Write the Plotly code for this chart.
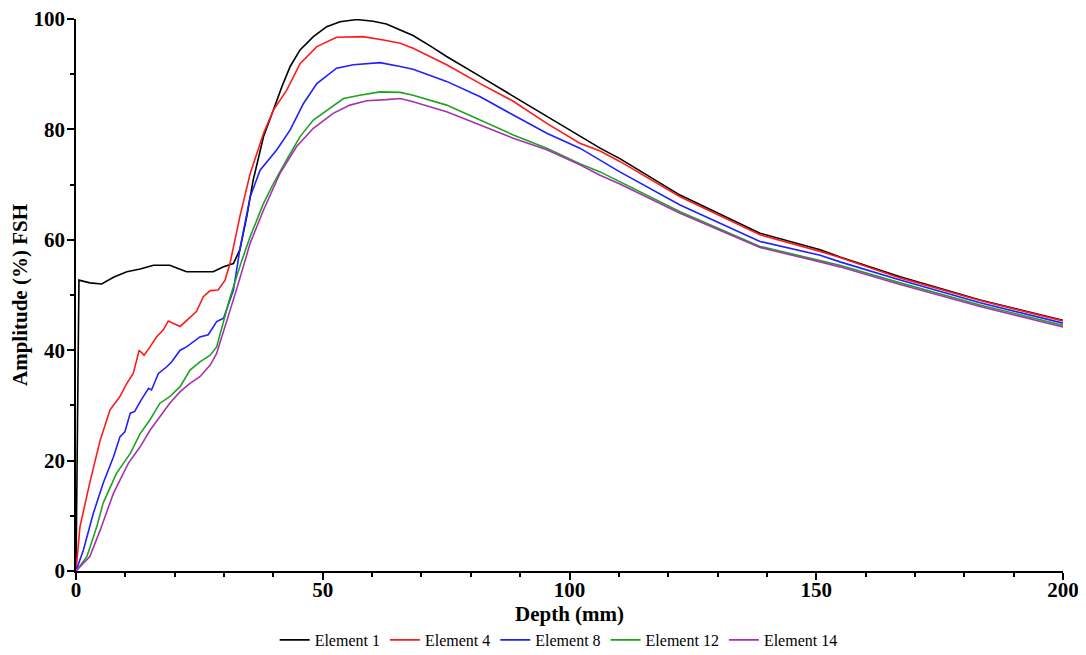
import plotly.graph_objects as go

# ---- data ----
names = ["Element 1", "Element 4", "Element 8", "Element 12", "Element 14"]
colors = ["#000000", "#ff1a1a", "#2020ff", "#1fa31f", "#a632b0"]

depth_e1 = [0, 0.6, 2.8, 5.2, 7.6, 10.3, 13, 15.7, 19, 22.4, 25, 27.8, 29.9, 31.9, 33.2, 34.6, 35.9, 38, 40,
            41.7, 43.4, 45.4, 48.1, 50.8, 53.5, 56.9, 60.2, 62.9, 65.7, 68.3, 72, 75.1, 81.9, 88.6, 95.4, 102.1,
            106.2, 110.2, 122.4, 138.6, 150.8, 154.8, 167, 183.2, 200]
amp_e1 = [0, 52.7, 52.2, 52.0, 53.2, 54.2, 54.7, 55.4, 55.4, 54.2, 54.2, 54.2, 55.1, 55.7, 58.2, 64.2, 70.8,
          78.7, 83.5, 87.7, 91.4, 94.4, 96.8, 98.6, 99.5, 99.9, 99.6, 99.1, 98.0, 97.0, 95.0, 93.2, 89.6, 86.0,
          82.3, 78.7, 76.6, 74.7, 68.1, 61.2, 58.2, 56.9, 53.3, 49.1, 45.4]

depth_e4 = [0, 0.8, 2.8, 4.9, 6.9, 8.9, 10.3, 11.6, 12.8, 13.8, 15, 16.3, 17.7, 18.7, 21.1, 23.1, 24.4, 25.8,
            27.2, 28.8, 30.2, 31.2, 33.2, 35.3, 38, 40, 42.7, 45.4, 48.8, 52.8, 58.2, 62.3, 65.7, 68.3, 75.1,
            81.9, 88.6, 95.4, 102.1, 106.2, 110.2, 122.4, 138.6, 150.8, 154.8, 167, 183.2, 200]
amp_e4 = [0, 8, 16, 23.7, 29.2, 31.6, 34, 35.8, 40, 39.1, 40.6, 42.4, 43.7, 45.3, 44.3, 46, 47, 49.7, 50.8,
          50.9, 52.7, 55.7, 64.2, 72, 79.3, 83.5, 87.1, 91.9, 95, 96.7, 96.8, 96.2, 95.6, 94.7, 91.7, 88.3,
          85.1, 81.1, 77.5, 76.1, 74.2, 67.8, 60.9, 57.9, 56.8, 53.1, 49.0, 45.3]

depth_e8 = [0, 1.5, 3.5, 5.5, 7.6, 8.9, 9.9, 11, 11.9, 13, 14.7, 15.3, 16.7, 18.4, 19.4, 21.1, 22.4, 25.1,
            26.8, 28.5, 29.9, 31.9, 33.2, 35.3, 37.3, 40.7, 43.4, 46.1, 48.8, 52.8, 56.2, 58.9, 61.6, 65.7,
            68.3, 75.1, 81.9, 88.6, 95.4, 102.1, 106.2, 110.2, 122.4, 138.6, 150.8, 154.8, 167, 183.2, 200]
amp_e8 = [0, 3.8, 10.4, 15.9, 20.7, 24.3, 25.2, 28.6, 28.9, 30.7, 33.1, 32.8, 35.8, 37, 37.9, 40, 40.6, 42.4,
          42.8, 45.2, 45.8, 50.9, 58.2, 67.8, 72.6, 76.3, 79.9, 84.7, 88.3, 91.1, 91.7, 91.9, 92.1, 91.4,
          90.9, 88.7, 85.9, 82.6, 79.3, 76.6, 74.5, 72.3, 66.3, 59.7, 57.2, 56.0, 52.7, 48.6, 44.9]

depth_e12 = [0, 2.2, 4.2, 5.5, 8.2, 11, 13, 15, 17, 19, 21.1, 23.1, 25.1, 27.2, 28.5, 29.9, 31.2, 33.5, 35.3,
             38, 40, 42.7, 45.4, 48.1, 50.8, 54.2, 57.5, 61.6, 65.7, 68.3, 75.1, 81.9, 88.6, 95.4, 102.1,
             106.2, 110.2, 122.4, 138.6, 150.8, 154.8, 167, 183.2, 200]
amp_e12 = [0, 2.6, 8, 12.3, 17.7, 21.3, 24.9, 27.4, 30.4, 31.6, 33.4, 36.4, 37.9, 39.1, 40.6, 45, 49.5, 56,
           60.6, 66.6, 70.2, 74.5, 78.7, 81.7, 83.5, 85.6, 86.2, 86.8, 86.7, 86.2, 84.4, 81.7, 79.0, 76.6,
           73.8, 72.3, 70.5, 65.1, 58.8, 56.3, 55.4, 52.2, 48.2, 44.5]

depth_e14 = [0, 2.8, 4.9, 7.6, 10.6, 13, 15, 17, 19, 21.1, 23.1, 25.1, 27.2, 28.5, 30.5, 32.6, 35.3, 38, 41.3,
             44.7, 48.1, 52.1, 55.5, 58.9, 62.9, 65.7, 68.3, 75.1, 81.9, 88.6, 95.4, 102.1, 106.2, 110.2,
             122.4, 138.6, 150.8, 154.8, 167, 183.2, 200]
amp_e14 = [0, 2.6, 7.4, 14.1, 19.5, 22.5, 25.5, 28, 30.4, 32.5, 34, 35.2, 37.3, 39.4, 45, 51.2, 59.4, 65.4,
           72, 76.9, 80.2, 82.9, 84.4, 85.2, 85.4, 85.6, 85.0, 83.2, 80.8, 78.4, 76.3, 73.6, 71.7, 70.1,
           64.8, 58.6, 56.0, 55.1, 51.9, 47.9, 44.2]

x_ticks = [0, 50, 100, 150, 200]
y_ticks = [0, 20, 40, 60, 80, 100]

series = [(depth_e1, amp_e1), (depth_e4, amp_e4), (depth_e8, amp_e8), (depth_e12, amp_e12), (depth_e14, amp_e14)]

fig = go.Figure()
for (xs, ys), name, col in zip(series, names, colors):
    fig.add_trace(go.Scatter(x=xs, y=ys, mode="lines", name=name,
                             line=dict(color=col, width=1.6)))

serif = "Liberation Serif, Times New Roman, serif"
axis_common = dict(
    showline=True, linecolor="black", linewidth=1.5, mirror=False,
    showgrid=False, zeroline=False, automargin=False, ticklabeloverflow="allow",
    ticks="outside", ticklen=7, tickwidth=1.5, tickcolor="black",
    tickfont=dict(family=serif, size=21, color="black", weight="bold"),
)

# the page body adds an 8px offset; margins compensate so the plot area lands where the reference has it
fig.update_layout(
    width=1086, height=655,
    margin=dict(l=68, r=31, t=11, b=92, autoexpand=False),
    plot_bgcolor="white", paper_bgcolor="white",
    xaxis=dict(range=[0, 200], tickvals=x_ticks, ticklabelstandoff=-8,
               minor=dict(dtick=10, ticks="outside", ticklen=4, tickwidth=1.5, tickcolor="black"),
               title=dict(text="Depth (mm)", font=dict(family=serif, size=21, color="black", weight="bold"),
                          standoff=0),
               **axis_common),
    yaxis=dict(range=[0, 100], tickvals=y_ticks, ticklabelstandoff=-2,
               minor=dict(dtick=10, ticks="outside", ticklen=4, tickwidth=1.5, tickcolor="black"),
               title=dict(text="Amplitude (%) FSH", font=dict(family=serif, size=21, color="black", weight="bold"),
                          standoff=0),
               **axis_common),
    legend=dict(orientation="h", x=0.489, xanchor="center", y=-0.125, yanchor="middle",
                font=dict(family=serif, size=16, color="black"),
                itemwidth=30, tracegroupgap=0),
    showlegend=True,
)

fig.write_html("out.html")
